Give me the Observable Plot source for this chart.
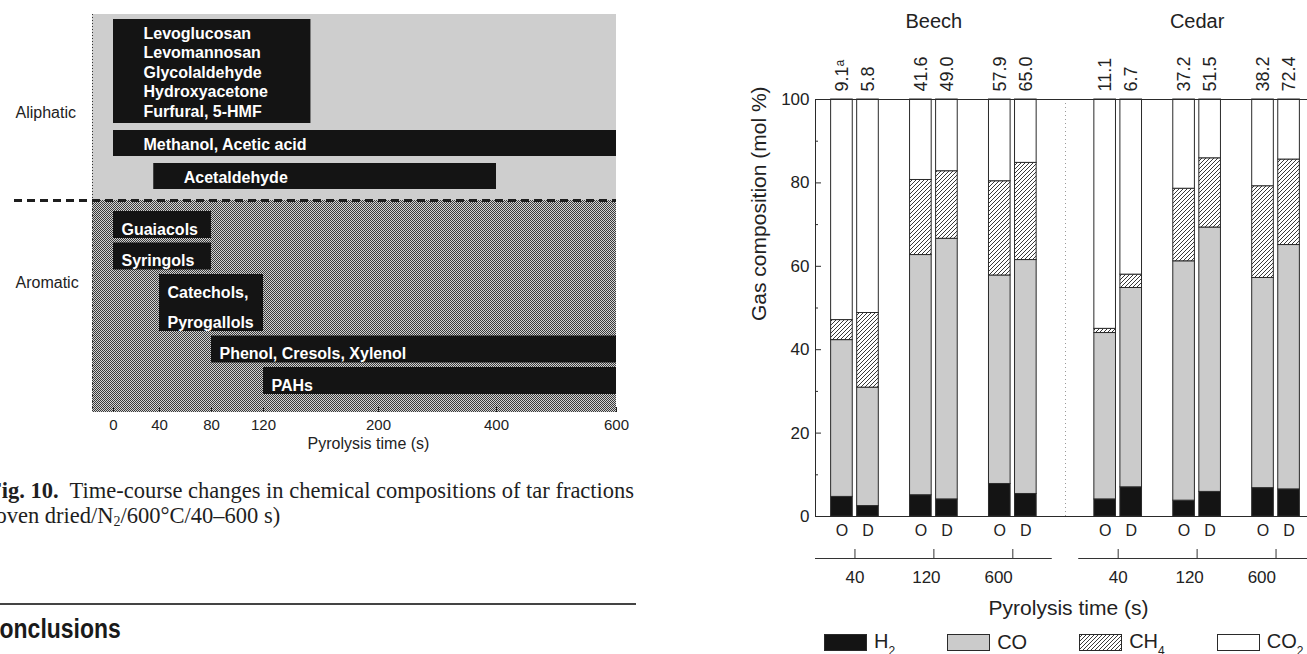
<!DOCTYPE html>
<html>
<head>
<meta charset="utf-8">
<script src="https://cdn.jsdelivr.net/npm/d3@7"></script>
<script src="https://cdn.jsdelivr.net/npm/@observablehq/plot@0.6"></script>
<style>
  html, body { margin: 0; padding: 0; background: #fff; overflow: hidden; width: 1307px; height: 654px; }
  #page { position: relative; width: 1307px; height: 654px; overflow: hidden; font-family: "Liberation Sans", Arial, sans-serif; color: #222; }
  #left { position: absolute; left: 0; top: 0; width: 640px; }
  #right { position: absolute; left: 740px; top: 0; width: 576px; }
  #caption { position: absolute; left: -12px; top: 478px; font-family: "Liberation Serif", "Times New Roman", serif; font-size: 22.5px; line-height: 25px; color: #1e1e1e; white-space: nowrap; }
  #caption sub { font-size: 14px; vertical-align: -3px; line-height: 0; }
  #rule { position: absolute; left: 0; top: 603px; width: 636px; height: 2px; background: #444; }
  #heading { position: absolute; left: -17px; top: 616px; font-family: "Liberation Sans", Arial, sans-serif; font-weight: bold; font-size: 27px; line-height: 27px; color: #1a1a1a; white-space: nowrap; transform: scaleX(0.85); transform-origin: 0 0; }
  #legend { position: absolute; left: 824px; top: 633px; display: flex; gap: 52px; align-items: flex-end; font-size: 20px; line-height: 17px; color: #222; white-space: nowrap; }
  #legend .item { display: flex; align-items: flex-end; gap: 7px; }
  #legend svg { display: block; }
  #legend sub { font-size: 12px; vertical-align: -7px; line-height: 0; }
</style>
</head>
<body>
<svg width="0" height="0" style="position:absolute">
  <defs>
    <pattern id="dither" width="2" height="2" patternUnits="userSpaceOnUse">
      <rect width="2" height="2" fill="#d2d2d2"/>
      <rect width="1" height="1" fill="#3a3a3a"/>
      <rect x="1" y="1" width="1" height="1" fill="#3a3a3a"/>
    </pattern>
    <pattern id="hatch" width="4" height="4" patternUnits="userSpaceOnUse">
      <rect width="4" height="4" fill="#fff"/>
      <path d="M-1,1 l2,-2 M0,4 l4,-4 M3,5 l2,-2" stroke="#222" stroke-width="0.9"/>
    </pattern>
  </defs>
</svg>
<div id="page">
  <div id="left"></div>
  <div id="right"></div>
  <div id="caption"><b>Fig. 10.</b>&nbsp; Time-course changes in chemical compositions of tar fractions<br>(oven dried/N<sub>2</sub>/600°C/40–600 s)</div>
  <div id="rule"></div>
  <div id="heading">Conclusions</div>
  <div id="legend"></div>
</div>
<script>
// ================= Left chart data (Fig. 10) =================
const tarFractions = [
  "Levoglucosan\nLevomannosan\nGlycolaldehyde\nHydroxyacetone\nFurfural, 5-HMF",
  "Methanol, Acetic acid",
  "Acetaldehyde",
  "Guaiacols",
  "Syringols",
  "Catechols,\nPyrogallols",
  "Phenol, Cresols, Xylenol",
  "PAHs"
];
const tarClass = ["Aliphatic", "Aliphatic", "Aliphatic", "Aromatic", "Aromatic", "Aromatic", "Aromatic", "Aromatic"];
const tarStart = [0, 0, 35, 0, 0, 40, 80, 120];
const tarEnd = [153, 600, 400, 80, 80, 120, 600, 600];
const tarClasses = ["Aliphatic", "Aromatic"];
const timeTicks = [0, 40, 80, 120, 200, 400, 600];
const timeTitle = "Pyrolysis time (s)";

// ================= Right chart data (gas composition) =================
const woods = ["Beech", "Cedar"];
const pyroTimes = [40, 120, 600];
const treatments = ["O", "D"];
const gasNames = ["H2", "CO", "CH4", "CO2"];
// order: Beech 40 O, Beech 40 D, Beech 120 O, Beech 120 D, Beech 600 O, Beech 600 D, then Cedar in same order
const h2  = [4.7, 2.5, 5.1, 4.1, 7.8, 5.4, 4.1, 7.0, 3.8, 5.9, 6.8, 6.5];
const co  = [37.6, 28.4, 57.6, 62.5, 50.0, 56.1, 39.9, 47.8, 57.4, 63.4, 50.4, 58.6];
const ch4 = [4.8, 17.9, 18.0, 16.2, 22.6, 23.3, 1.0, 3.2, 17.4, 16.6, 22.0, 20.5];
const co2 = [52.9, 51.2, 19.3, 17.2, 19.6, 15.2, 55.0, 42.0, 21.4, 14.1, 20.8, 14.4];
const gasYield = ["9.1ᵃ", "5.8", "41.6", "49.0", "57.9", "65.0", "11.1", "6.7", "37.2", "51.5", "38.2", "72.4"];
const yTicks = [0, 20, 40, 60, 80, 100];
const yMinor = [10, 30, 50, 70, 90];
const yTitle = "Gas composition (mol %)";

const FONT = "'Liberation Sans', Arial, Helvetica, sans-serif";

// ---------- Left chart: broken (piecewise) time axis ----------
// The original axis is not linear: each labelled tick gets its own segment.
const timePos = d3.scaleLinear().domain(timeTicks).range([0, 46, 98, 150, 265, 383, 503]);
const posMax = timePos(600);

// ---------- Left chart layout (block heights from number of text lines) ----------
const LAYOUT = {
  Aliphatic: {lead: 5, base: 26, pitch: 19.5, gap: 7, tail: 11, labelAt: 0.53, textDx: 30, lineHeight: 1.22},
  Aromatic:  {lead: 11, base: 27, pitch: 30, gap: 4.5, tail: 18, labelAt: 0.39, textDx: 8, lineHeight: 1.875}
};
let cur = 0;
const regions = [], blocks = [];
tarClasses.forEach(c => {
  const L = LAYOUT[c];
  const r0 = cur;
  cur += L.lead;
  tarFractions.forEach((name, i) => {
    if (tarClass[i] !== c) return;
    const lines = name.split("\n").length;
    const h = L.base + (lines - 1) * L.pitch;
    blocks.push({name, cls: c, start: timePos(tarStart[i]), end: timePos(tarEnd[i]), y1: cur, y2: cur + h});
    cur += h + L.gap;
  });
  cur += L.tail - L.gap;
  regions.push({cls: c, y1: r0, y2: cur, labelY: r0 + (cur - r0) * L.labelAt});
});
const yMax = cur;
const tickData = timeTicks.map(t => ({t, pos: timePos(t)}));

const leftPlot = Plot.plot({
  width: 640, height: 460,
  marginLeft: 92, marginRight: 24, marginTop: 14, marginBottom: 48,
  style: {fontFamily: FONT, fontSize: "15px", color: "#222", background: "transparent", maxWidth: "none", overflow: "visible"},
  x: {domain: [0, posMax], range: [113, 616], axis: null},
  y: {domain: [0, yMax], range: [14, 412], axis: null},
  marks: [
    Plot.rect(regions.filter(d => d.cls === "Aliphatic"), {y1: "y1", y2: "y2", fill: "#cecece"}),
    Plot.rect(regions.filter(d => d.cls === "Aromatic"), {y1: "y1", y2: "y2", fill: "url(#dither)"}),
    Plot.ruleX([0], {y1: 0, y2: yMax, dx: -21, stroke: "#333", strokeWidth: 1, strokeDasharray: "1,2"}),
    Plot.ruleY(regions.slice(1), {y: "y1", insetLeft: -78, stroke: "#1e1e1e", strokeWidth: 3, strokeDasharray: "8,5"}),
    Plot.rect(blocks, {x1: "start", x2: "end", y1: "y1", y2: "y2", fill: "#141414"}),
    ...tarClasses.map(c => Plot.text(blocks.filter(d => d.cls === c), {
      x: "start", y: d => (d.y1 + d.y2) / 2, text: "name", dx: LAYOUT[c].textDx,
      textAnchor: "start", lineAnchor: "middle", lineHeight: LAYOUT[c].lineHeight,
      fill: "#fff", fontWeight: "bold", fontSize: 16
    })),
    Plot.text(regions, {y: "labelY", text: "cls", frameAnchor: "left", dx: -77, textAnchor: "start", fontSize: 16, fill: "#222"}),
    Plot.ruleX(tickData, {x: "pos", y1: yMax, y2: yMax - 5, stroke: "#222"}),
    Plot.text(tickData, {x: "pos", y: yMax, dy: 13, text: d => String(d.t), fontSize: 15, fill: "#222"}),
    Plot.text([timeTitle], {frameAnchor: "bottom", lineAnchor: "middle", dy: 31, dx: 14, fontSize: 16, fill: "#222"})
  ]
});
document.getElementById("left").appendChild(leftPlot);

// ---------- Right chart ----------
const WOOD_SHIFT = [0, 3.335];
const BAR_OFFSET = 0.165, BAR_HALF = 0.137;
const LABEL_SHIFT = [0, 0.095, 0.18];
const gasFill = ["#141414", "#cbcbcb", "url(#hatch)", "#ffffff"];
const gasValues = [h2, co, ch4, co2];

const bars = [], segments = [], groups = [];
woods.forEach((w, wi) => {
  pyroTimes.forEach((t, ti) => {
    const gpos = WOOD_SHIFT[wi] + ti;
    groups.push({wood: w, time: t, pos: gpos, labelPos: gpos - LABEL_SHIFT[ti]});
    treatments.forEach((tr, di) => {
      const k = wi * 6 + ti * 2 + di;
      const pos = gpos + (di === 0 ? -BAR_OFFSET : BAR_OFFSET);
      bars.push({wood: w, time: t, treatment: tr, pos, yieldLabel: gasYield[k]});
      let acc = 0;
      gasNames.forEach((g, gi) => {
        const v = gasValues[gi][k];
        segments.push({gas: g, x1: pos - BAR_HALF, x2: pos + BAR_HALF, y1: acc, y2: Math.min(100, acc + v)});
        acc += v;
      });
    });
  });
});
const woodAxes = woods.map((w, wi) => ({wood: w, x1: WOOD_SHIFT[wi] - 0.5, x2: WOOD_SHIFT[wi] + 2.5, center: WOOD_SHIFT[wi] + 1}));
const separator = (WOOD_SHIFT[0] + 2 + WOOD_SHIFT[1]) / 2;

const rightPlot = Plot.plot({
  width: 576, height: 654,
  marginLeft: 75, marginRight: 1, marginTop: 99, marginBottom: 138,
  style: {fontFamily: FONT, fontSize: "17px", color: "#222", background: "transparent", maxWidth: "none", overflow: "visible"},
  x: {domain: [-0.5, 5.835], axis: null},
  y: {domain: [0, 100], axis: null},
  marks: [
    ...gasNames.map((g, gi) => Plot.rect(segments.filter(s => s.gas === g), {
      x1: "x1", x2: "x2", y1: "y1", y2: "y2", fill: gasFill[gi], stroke: "#2a2a2a", strokeWidth: 1
    })),
    Plot.ruleX([separator], {stroke: "#9a9a9a", strokeDasharray: "1,3"}),
    Plot.frame({stroke: "#2a2a2a", strokeWidth: 1}),
    Plot.ruleY(yTicks, {insetRight: 494, stroke: "#2a2a2a"}),
    Plot.ruleY(yMinor, {insetRight: 497, stroke: "#2a2a2a"}),
    Plot.axisY({ticks: yTicks, tickSize: 0, tickPadding: 6, fontSize: 17, label: null}),
    Plot.text([yTitle], {frameAnchor: "left", rotate: -90, dx: -56, dy: 13, fontSize: 21, fill: "#222"}),
    Plot.text(bars, {x: "pos", y: 100, dy: -8, rotate: -90, textAnchor: "start", text: "yieldLabel", fontSize: 18, fill: "#222"}),
    Plot.text(woodAxes, {x: "center", y: 100, dy: -78, text: "wood", fontSize: 20, fill: "#222"}),
    Plot.text(bars, {x: "pos", y: 0, dy: 14, text: "treatment", fontSize: 16, fill: "#222"}),
    Plot.ruleY(woodAxes, {y: 0, x1: "x1", x2: "x2", dy: 42, stroke: "#333"}),
    Plot.tickX(groups, {x: "pos", insetTop: 408, dy: 42, stroke: "#333"}),
    Plot.text(groups, {x: "labelPos", y: 0, dy: 61, text: d => String(d.time), fontSize: 17, fill: "#222"}),
    Plot.text([timeTitle], {frameAnchor: "bottom", lineAnchor: "middle", dy: 92, dx: 3, fontSize: 21, fill: "#222"})
  ]
});
document.getElementById("right").appendChild(rightPlot);

// ---------- Legend (HTML, below the plot) ----------
const legend = document.getElementById("legend");
gasNames.forEach((g, gi) => {
  const item = document.createElement("span");
  item.className = "item";
  const label = g.replace(/(\d)/, "<sub>$1</sub>");
  item.innerHTML = `<svg width="43" height="17"><rect x="0.5" y="0.5" width="42" height="16" fill="${gasFill[gi]}" stroke="#2a2a2a"/></svg><span>${label}</span>`;
  legend.appendChild(item);
});
</script>
</body>
</html>
